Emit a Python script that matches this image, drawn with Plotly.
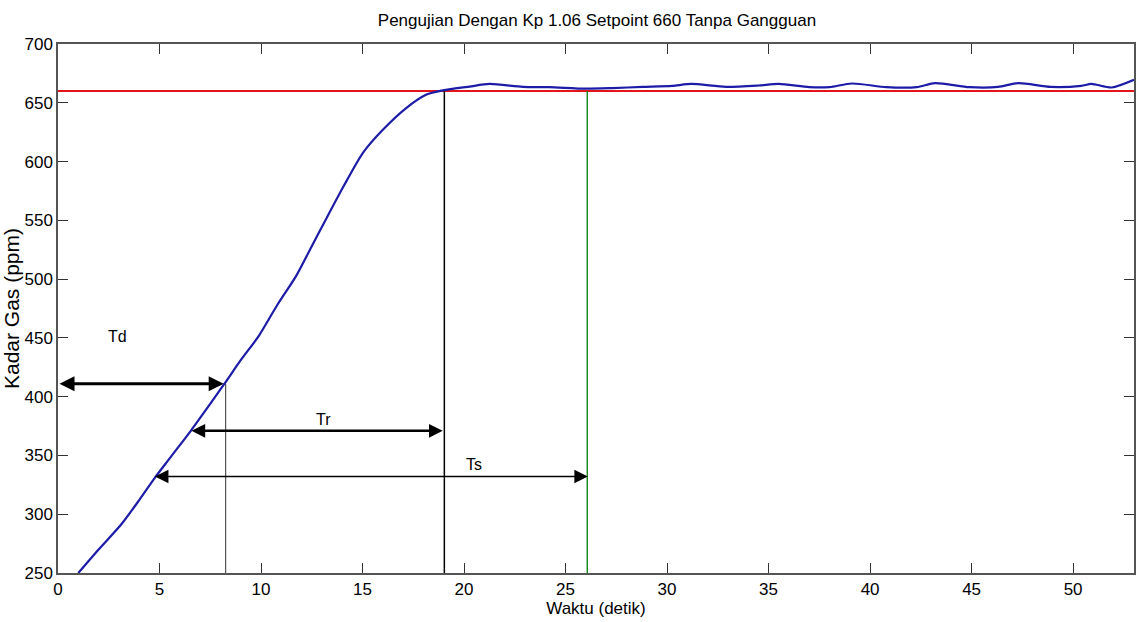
import plotly.graph_objects as go

# Step response of gas concentration, Kp = 1.06, setpoint 660 ppm
waktu = [1.0, 2.0, 3.1, 4.0, 4.75, 5.5, 6.56, 7.4, 8.2, 9.0, 9.9, 10.8, 11.74,
         12.5, 13.2, 14.1, 15.02, 16.0, 17.15, 18.13, 18.95, 20.27, 21.25,
         22.9, 24.2, 26.0, 27.3, 28.8, 30.25, 31.2, 32.9, 34.5, 35.5, 37.0,
         38.0, 39.1, 40.8, 42.3, 43.2, 44.9, 46.3, 47.3, 48.9, 50.4, 50.9,
         51.9, 53.0]
kadar = [250, 270, 291, 312, 330.5, 347.5, 371.4, 391.5, 411, 431, 452, 478,
         503, 528, 551, 580, 607.4, 627, 645.5, 656.8, 660.5, 663.8, 666,
         663.6, 663.3, 662, 662.5, 663.5, 664.4, 666, 663.6, 664.7, 666,
         663.3, 663.3, 666.4, 663.3, 663.3, 666.7, 663.3, 663.5, 666.7,
         663.5, 664.4, 666, 663, 669.5]

setpoint = 660
x_range = [0, 53]
y_range = [250, 700]
x_ticks = [0, 5, 10, 15, 20, 25, 30, 35, 40, 45, 50]
y_ticks = [250, 300, 350, 400, 450, 500, 550, 600, 650, 700]

# Delay, rise and settling time markers
td_time, td_level = 8.26, 411
tr_start, tr_end, tr_level = 6.5, 18.95, 371
ts_start, ts_end, ts_level = 4.7, 26.1, 332
rise_time = 19.03
settle_time = 26.07

font_main = "Liberation Sans, Arial"

fig = go.Figure()

fig.add_trace(go.Scatter(x=x_range, y=[setpoint, setpoint], mode="lines",
                         line=dict(color="#e3141b", width=2), hoverinfo="skip"))
fig.add_trace(go.Scatter(x=[td_time, td_time], y=[td_level, y_range[0]], mode="lines",
                         line=dict(color="#333333", width=1), hoverinfo="skip"))
fig.add_trace(go.Scatter(x=[rise_time, rise_time], y=[setpoint, y_range[0]], mode="lines",
                         line=dict(color="#000000", width=1.5), hoverinfo="skip"))
fig.add_trace(go.Scatter(x=[settle_time, settle_time], y=[setpoint, y_range[0]], mode="lines",
                         line=dict(color="#1e8a1e", width=1.5), hoverinfo="skip"))
fig.add_trace(go.Scatter(x=waktu, y=kadar, mode="lines",
                         line=dict(color="#1c1ca8", width=2.2, shape="spline", smoothing=0.7),
                         hoverinfo="skip"))

def double_arrow(x0, x1, yv, width, size):
    fig.add_annotation(x=x1, y=yv, ax=x0, ay=yv, xref="x", yref="y",
                       axref="x", ayref="y", text="", showarrow=True,
                       arrowside="end+start", arrowhead=2, arrowsize=size,
                       arrowwidth=width, arrowcolor="#000000")

double_arrow(0, td_time - 0.1, td_level, 3, 1.0)
double_arrow(tr_start, tr_end, tr_level, 2.5, 1.1)
double_arrow(ts_start, ts_end, ts_level, 1.5, 1.8)

for label, lx, ly in [("Td", 2.95, 451), ("Tr", 13.1, 381), ("Ts", 20.5, 342)]:
    fig.add_annotation(x=lx, y=ly, text=label, showarrow=False,
                       font=dict(family=font_main, size=16, color="#000000"))

axis_common = dict(showline=True, linecolor="#555555", linewidth=1.5, mirror="ticks",
                   ticks="inside", ticklen=10, tickcolor="#333333", tickwidth=1,
                   showgrid=False, zeroline=False,
                   tickfont=dict(family=font_main, size=17, color="#000000"))

fig.update_layout(
    width=1136, height=622,
    margin=dict(l=58, r=0, t=44, b=49),
    paper_bgcolor="white", plot_bgcolor="white",
    showlegend=False,
    title=dict(text="Pengujian Dengan Kp 1.06 Setpoint 660 Tanpa Gangguan",
               x=0.5255, xanchor="center", y=0.968, yanchor="middle",
               font=dict(family=font_main, size=17, color="#000000")),
    xaxis=dict(range=x_range, tickvals=x_ticks, ticktext=[str(v) for v in x_ticks],
               title=dict(text="Waktu (detik)", standoff=2,
                          font=dict(family=font_main, size=17, color="#000000")),
               **axis_common),
    yaxis=dict(range=y_range, tickvals=y_ticks, ticktext=[str(v) for v in y_ticks],
               title=dict(text="Kadar Gas (ppm)", standoff=5,
                          font=dict(family=font_main, size=21, color="#000000")),
               **axis_common),
)

fig.write_html("out.html")
